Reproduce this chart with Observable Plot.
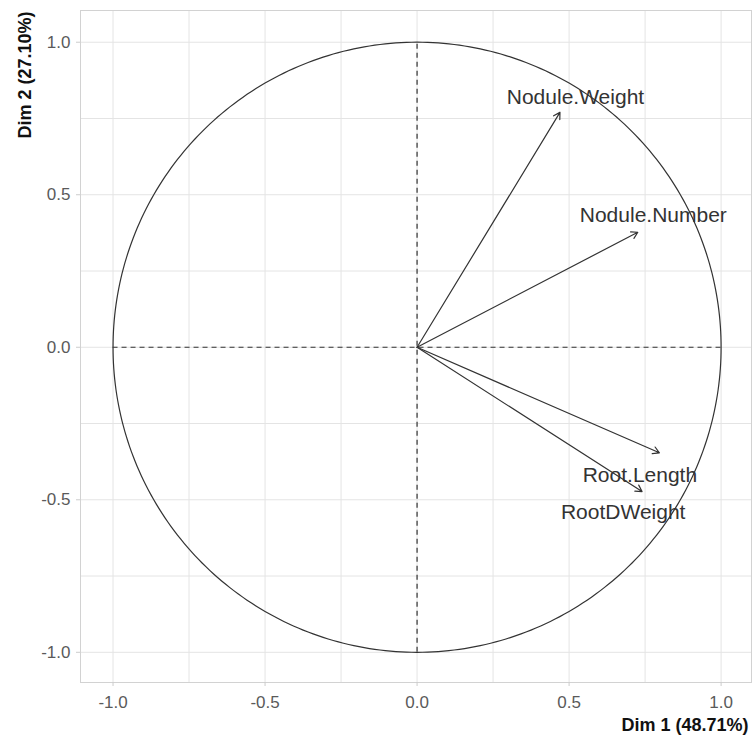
<!DOCTYPE html>
<html>
<head>
<meta charset="utf-8">
<script src="https://cdn.jsdelivr.net/npm/d3@7"></script>
<script src="https://cdn.jsdelivr.net/npm/@observablehq/plot@0.6"></script>
<style>
  html, body { margin: 0; padding: 0; background: #fff; }
  #chart { width: 755px; height: 740px; }
</style>
</head>
<body>
<div id="chart"></div>
<script>
// Variables (PCA correlation circle)
const variables = ["Nodule.Weight", "Nodule.Number", "Root.Length", "RootDWeight"];
const dim1 = [0.470, 0.726, 0.797, 0.740];
const dim2 = [0.770, 0.377, -0.346, -0.473];
// Label positions (repelled labels)
const labelX = [0.521, 0.777, 0.733, 0.678];
const labelY = [0.820, 0.432, -0.420, -0.541];

const majorTicks = [-1.0, -0.5, 0.0, 0.5, 1.0];
const gridTicks = [-1.0, -0.75, -0.5, -0.25, 0.0, 0.25, 0.5, 0.75, 1.0];
const xTitle = "Dim 1 (48.71%)";
const yTitle = "Dim 2 (27.10%)";

const arrows = variables.map((v, i) => ({name: v, x: dim1[i], y: dim2[i], lx: labelX[i], ly: labelY[i]}));
// unit circle outline (geometry)
const circle = d3.range(0, 361, 1).map(a => ({x: Math.cos(a * Math.PI / 180), y: Math.sin(a * Math.PI / 180)}));

const fmt = d => d3.format(".1f")(d).replace("\u2212", "-");

const chart = Plot.plot({
  width: 755,
  height: 740,
  marginLeft: 80,
  marginRight: 4,
  marginTop: 10,
  marginBottom: 58,
  x: {domain: [-1.107, 1.100]},
  y: {domain: [-1.099, 1.104]},
  style: {fontFamily: "'Liberation Sans', Arial, sans-serif", fontSize: "17px", background: "#fff", color: "#333"},
  marks: [
    Plot.gridX(gridTicks, {stroke: "#e4e4e4", strokeOpacity: 1, strokeWidth: 1}),
    Plot.gridY(gridTicks, {stroke: "#e4e4e4", strokeOpacity: 1, strokeWidth: 1}),
    Plot.frame({stroke: "#d2d2d2", strokeWidth: 1}),
    Plot.axisX(majorTicks, {tickFormat: fmt, tickSize: 4, tickPadding: 9, stroke: "#cccccc", fill: "#5a5a5a", fontSize: 17, label: null}),
    Plot.axisY(majorTicks, {tickFormat: fmt, tickSize: 4, tickPadding: 6, stroke: "#cccccc", fill: "#5a5a5a", fontSize: 17, label: null}),
    Plot.ruleY([0], {x1: -1, x2: 1, stroke: "#333", strokeWidth: 1.2, strokeDasharray: "5,4"}),
    Plot.ruleX([0], {y1: -1, y2: 1, stroke: "#333", strokeWidth: 1.2, strokeDasharray: "5,4"}),
    Plot.line(circle, {x: "x", y: "y", stroke: "#333", strokeWidth: 1.2}),
    Plot.arrow(arrows, {x1: 0, y1: 0, x2: "x", y2: "y", stroke: "#333", strokeWidth: 1.2, headLength: 9, headAngle: 60}),
    Plot.text(arrows, {x: "lx", y: "ly", text: "name", fontSize: 21, fill: "#333", lineAnchor: "middle"}),
    Plot.text([xTitle], {frameAnchor: "bottom-right", textAnchor: "end", lineAnchor: "bottom", dy: 48, dx: -3, fontSize: 18, fontWeight: "bold", fill: "#111"}),
    Plot.text([yTitle], {frameAnchor: "top-left", textAnchor: "end", lineAnchor: "middle", rotate: -90, dx: -55, dy: 1, fontSize: 18, fontWeight: "bold", fill: "#111"})
  ]
});
document.getElementById("chart").appendChild(chart);
</script>
</body>
</html>
